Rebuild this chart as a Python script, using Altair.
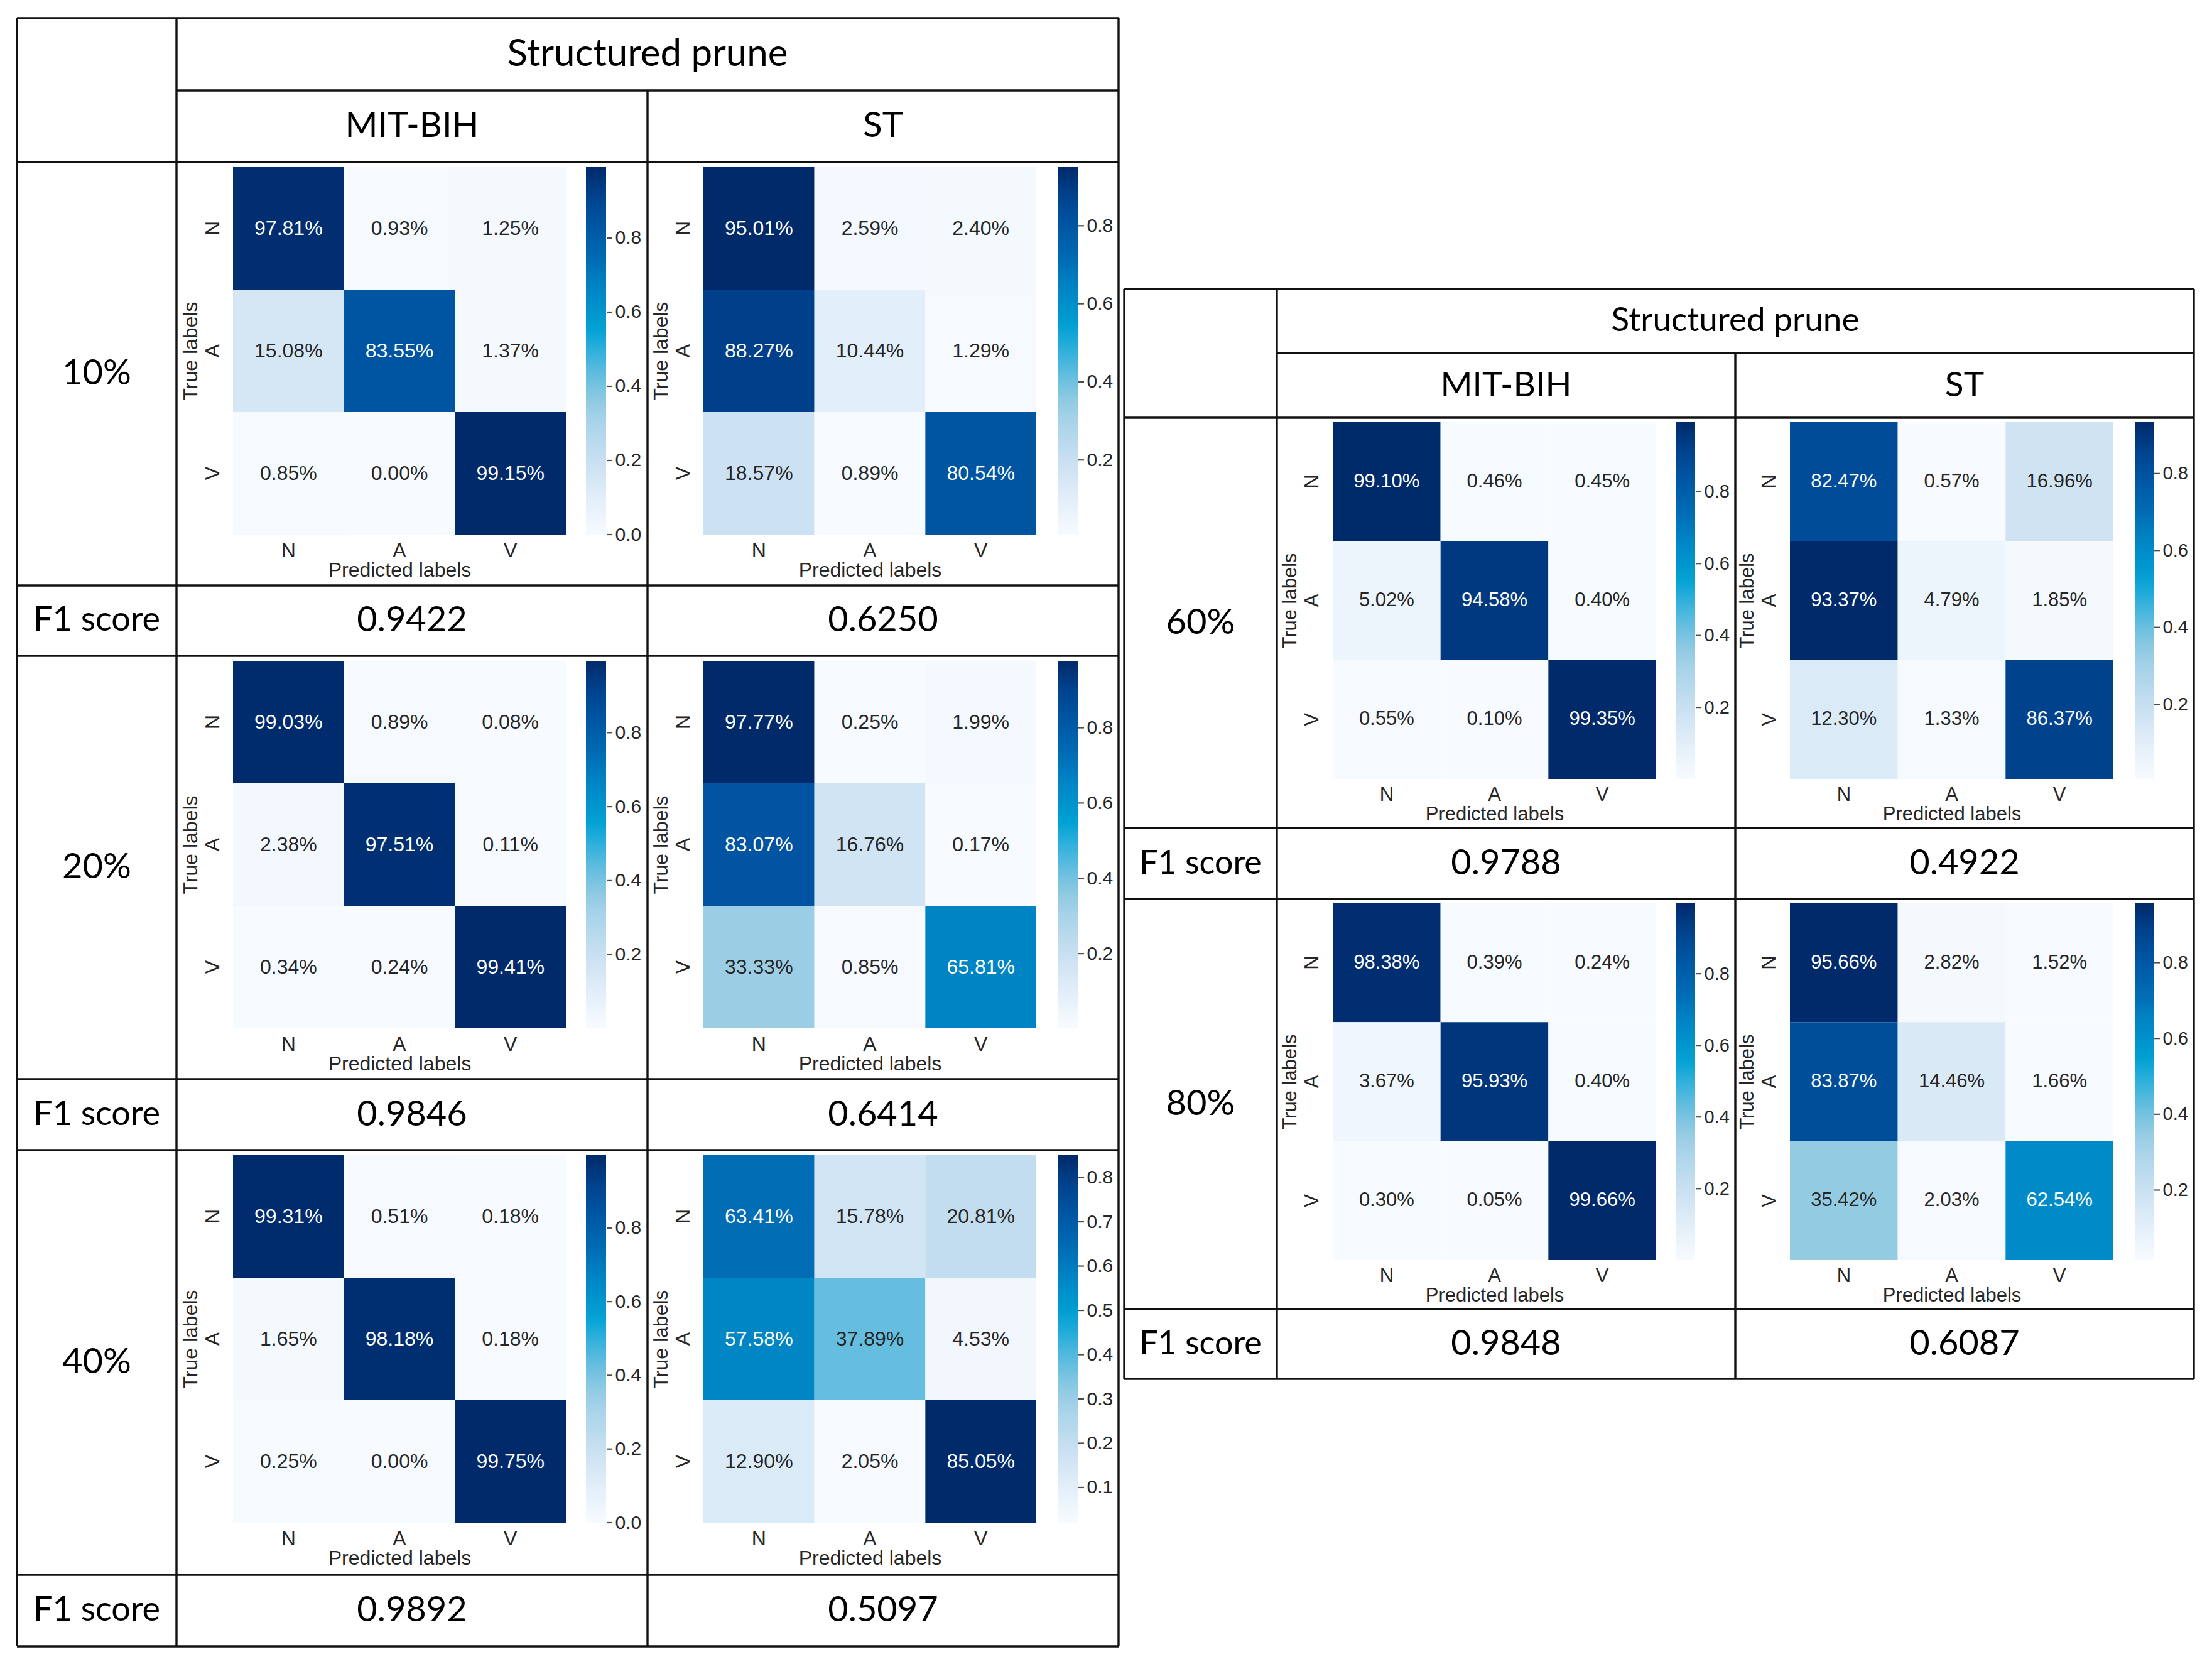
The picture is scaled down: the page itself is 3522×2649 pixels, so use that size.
import altair as alt
import numpy as np
import pandas as pd

# ---------------- data ----------------
CLASSES = ["N", "A", "V"]
LEVELS = ["10%", "20%", "40%", "60%", "80%"]
DATASETS = ["MIT-BIH", "ST"]
HEADER = "Structured prune"
F1_LABEL = "F1 score"
X_TITLE = "Predicted labels"
Y_TITLE = "True labels"

# confusion matrices in % (row = true label N, A, V ; col = predicted N, A, V)
cm_10_mit = [97.81, 0.93, 1.25, 15.08, 83.55, 1.37, 0.85, 0.00, 99.15]
cm_10_st = [95.01, 2.59, 2.40, 88.27, 10.44, 1.29, 18.57, 0.89, 80.54]
cm_20_mit = [99.03, 0.89, 0.08, 2.38, 97.51, 0.11, 0.34, 0.24, 99.41]
cm_20_st = [97.77, 0.25, 1.99, 83.07, 16.76, 0.17, 33.33, 0.85, 65.81]
cm_40_mit = [99.31, 0.51, 0.18, 1.65, 98.18, 0.18, 0.25, 0.00, 99.75]
cm_40_st = [63.41, 15.78, 20.81, 57.58, 37.89, 4.53, 12.90, 2.05, 85.05]
cm_60_mit = [99.10, 0.46, 0.45, 5.02, 94.58, 0.40, 0.55, 0.10, 99.35]
cm_60_st = [82.47, 0.57, 16.96, 93.37, 4.79, 1.85, 12.30, 1.33, 86.37]
cm_80_mit = [98.38, 0.39, 0.24, 3.67, 95.93, 0.40, 0.30, 0.05, 99.66]
cm_80_st = [95.66, 2.82, 1.52, 83.87, 14.46, 1.66, 35.42, 2.03, 62.54]

f1_mit = [0.9422, 0.9846, 0.9892, 0.9788, 0.9848]
f1_st = [0.6250, 0.6414, 0.5097, 0.4922, 0.6087]

MATRICES = [
    (cm_10_mit, cm_10_st),
    (cm_20_mit, cm_20_st),
    (cm_40_mit, cm_40_st),
    (cm_60_mit, cm_60_st),
    (cm_80_mit, cm_80_st),
]

# ---------------- style / layout ----------------
STOP_T = [0.00, 0.10, 0.20, 0.30, 0.36, 0.43, 0.50, 0.56, 0.62, 0.67, 0.74, 0.84, 0.92, 1.00]
STOP_COLORS = ["#f7fbff", "#e2eef9", "#c9e0f1", "#aad4ea", "#93cbe3", "#66bedf", "#30b0dc",
               "#00a2d4", "#0091cb", "#0085c5", "#006db5", "#0056a3", "#00438e", "#002a6a"]
TEXT_DARK = "#262626"
TABLE_FONT = "Lato"
PLOT_FONT = "Liberation Sans"

OFF = 8
W, H = 3500, 2625

LX = [27, 281, 1031, 1781]
LY = [29, 144, 258, 932, 1044, 1718, 1831, 2507, 2621]
RX = [1790, 2033, 2763, 3493]
RY = [460, 562, 665, 1318, 1431, 2084, 2195]

# ---------------- table (lines + text) ----------------
segs = []
for y in LY:
    segs.append((LX[1] if y == LY[1] else LX[0], LX[3], y, y))
for x in LX:
    segs.append((x, x, LY[1] if x == LX[2] else LY[0], LY[-1]))
for y in RY:
    segs.append((RX[1] if y == RY[1] else RX[0], RX[3], y, y))
for x in RX:
    segs.append((x, x, RY[1] if x == RX[2] else RY[0], RY[-1]))
seg_df = pd.DataFrame(segs, columns=["x", "x2", "y", "y2"])

texts = []
def mid(a, b):
    return (a + b) / 2

# left table
texts.append((mid(LX[1], LX[3]), mid(LY[0], LY[1]), HEADER, 60))
texts.append((mid(LX[1], LX[2]), mid(LY[1], LY[2]), DATASETS[0], 56))
texts.append((mid(LX[2], LX[3]), mid(LY[1], LY[2]), DATASETS[1], 56))
for i in range(3):
    r0, r1, r2 = LY[2 + 2 * i], LY[3 + 2 * i], LY[4 + 2 * i]
    texts.append((mid(LX[0], LX[1]), mid(r0, r1), LEVELS[i], 56))
    texts.append((mid(LX[0], LX[1]), mid(r1, r2), F1_LABEL, 54))
    texts.append((mid(LX[1], LX[2]), mid(r1, r2), f"{f1_mit[i]:.4f}", 56))
    texts.append((mid(LX[2], LX[3]), mid(r1, r2), f"{f1_st[i]:.4f}", 56))
# right table
texts.append((mid(RX[1], RX[3]), mid(RY[0], RY[1]), HEADER, 53))
texts.append((mid(RX[1], RX[2]), mid(RY[1], RY[2]), DATASETS[0], 55))
texts.append((mid(RX[2], RX[3]), mid(RY[1], RY[2]), DATASETS[1], 55))
for j in range(2):
    i = 3 + j
    r0, r1, r2 = RY[2 + 2 * j], RY[3 + 2 * j], RY[4 + 2 * j]
    texts.append((mid(RX[0], RX[1]), mid(r0, r1), LEVELS[i], 56))
    texts.append((mid(RX[0], RX[1]), mid(r1, r2), F1_LABEL, 52))
    texts.append((mid(RX[1], RX[2]), mid(r1, r2), f"{f1_mit[i]:.4f}", 56))
    texts.append((mid(RX[2], RX[3]), mid(r1, r2), f"{f1_st[i]:.4f}", 56))
text_df = pd.DataFrame(texts, columns=["x", "y", "label", "fs"])

tx = alt.Scale(domain=[OFF, OFF + W], range=[0, W], nice=False, zero=False)
ty = alt.Scale(domain=[OFF, OFF + H], range=[0, H], nice=False, zero=False)

rules = alt.Chart(seg_df).mark_rule(color="#111111", strokeWidth=3.4).encode(
    x=alt.X("x:Q", scale=tx, axis=None),
    x2="x2:Q",
    y=alt.Y("y:Q", scale=ty, axis=None),
    y2="y2:Q",
)
labels = alt.Chart(text_df).mark_text(font=TABLE_FONT, color="black", baseline="middle", align="center").encode(
    x=alt.X("x:Q", scale=tx, axis=None),
    y=alt.Y("y:Q", scale=ty, axis=None),
    text="label:N",
    size=alt.Size("fs:Q", scale=None),
)
table = alt.layer(rules, labels)

# ---------------- heatmaps ----------------
def heatmap(vals, x0, y0, w, h, cx, cw, fs):
    df = pd.DataFrame({
        "true": [c for c in CLASSES for _ in CLASSES],
        "pred": CLASSES * 3,
        "pct": vals,
    })
    df["v"] = df["pct"] / 100.0
    df["label"] = df["pct"].map(lambda p: f"{p:.2f}%")
    vmin, vmax = float(df["v"].min()), float(df["v"].max())
    df["t"] = (df["v"] - vmin) / (vmax - vmin)
    dom = [vmin + s * (vmax - vmin) for s in STOP_T]
    step = 0.1 if (vmax - vmin) < 0.9 else 0.2
    ticks = [round(k * step, 1) for k in range(0, 11) if vmin - 1e-9 <= k * step <= vmax + 1e-9]

    xs = alt.Scale(domain=CLASSES, range=[x0 - OFF, x0 + w - OFF], paddingInner=0, paddingOuter=0)
    ys = alt.Scale(domain=CLASSES, range=[y0 - OFF, y0 + h - OFF], paddingInner=0, paddingOuter=0)
    xenc = alt.X("pred:N", scale=xs, axis=alt.Axis(
        orient="bottom", offset=(y0 + h - OFF) - H, title=X_TITLE, domain=False, ticks=False,
        tickSize=0, labelAngle=0, labelPadding=25, labelBaseline="middle",
        labelFont=PLOT_FONT, labelFontSize=fs, labelColor=TEXT_DARK,
        titleFont=PLOT_FONT, titleFontSize=fs, titleFontWeight="normal", titleColor=TEXT_DARK,
        titleY=56, titleBaseline="middle", grid=False))
    yenc = alt.Y("true:N", scale=ys, axis=alt.Axis(
        orient="left", offset=-(x0 - OFF), title=Y_TITLE, domain=False, ticks=False,
        tickSize=0, labelAngle=270, labelAlign="center", labelBaseline="middle", labelPadding=33,
        labelFont=PLOT_FONT, labelFontSize=fs, labelColor=TEXT_DARK,
        titleFont=PLOT_FONT, titleFontSize=fs, titleFontWeight="normal", titleColor=TEXT_DARK,
        titleX=-68, titleAngle=270, titleBaseline="middle", grid=False))
    base = alt.Chart(df)
    rect = base.mark_rect().encode(
        x=xenc, y=yenc,
        color=alt.Color("v:Q", scale=alt.Scale(domain=dom, range=STOP_COLORS, interpolate="rgb"),
                        legend=alt.Legend(orient="none", legendX=cx - OFF, legendY=y0 - OFF,
                                          direction="vertical", gradientLength=h, gradientThickness=cw,
                                          gradientStrokeWidth=0, title=None, values=ticks,
                                          labelExpr="''", padding=0)),
    )
    txt = base.mark_text(font=PLOT_FONT, fontSize=fs, baseline="middle", align="center").encode(
        x=xenc, y=yenc, text="label:N",
        color=alt.condition("datum.t > 0.47", alt.value("white"), alt.value(TEXT_DARK)),
    )
    # colorbar ticks + labels, on a linear scale spanning the colorbar
    tick_df = pd.DataFrame({"v": ticks})
    cb_scale = alt.Scale(domain=[vmin, vmax], range=[y0 + h - OFF, y0 - OFF], nice=False, zero=False)
    tk = alt.Chart(tick_df).mark_rule(color="#4d4d4d", strokeWidth=2.2).encode(
        y=alt.Y("v:Q", scale=cb_scale, axis=alt.Axis(
            orient="right", offset=(cx + cw - OFF) - W, values=ticks, format=".1f",
            ticks=False, tickSize=0, domain=False, grid=False, labelPadding=14,
            labelFlush=False, labelBaseline="middle", labelAlign="left", labelOverlap=False,
            labelFont=PLOT_FONT, labelFontSize=fs - 2, labelColor=TEXT_DARK, title=None)),
        x=alt.value(cx + cw - OFF + 1),
        x2=alt.value(cx + cw - OFF + 10),
    )
    return [alt.layer(rect, txt), tk]

heatmaps = []
for i in range(3):
    row_top = LY[2 + 2 * i]
    y0 = row_top + 8
    heatmaps += heatmap(MATRICES[i][0], LX[1] + 90, y0, 530, 585, LX[1] + 652, 32, 32)
    heatmaps += heatmap(MATRICES[i][1], LX[2] + 89, y0, 530, 585, LX[2] + 653, 32, 32)
for j in range(2):
    i = 3 + j
    row_top = RY[2 + 2 * j]
    y0 = row_top + 7
    heatmaps += heatmap(MATRICES[i][0], RX[1] + 89, y0, 515, 568, RX[1] + 636, 30, 31)
    heatmaps += heatmap(MATRICES[i][1], RX[2] + 87, y0, 515, 568, RX[2] + 636, 30, 31)

chart = alt.layer(table, *heatmaps).resolve_scale(
    x="independent", y="independent", color="independent"
).properties(
    width=W, height=H, padding=0, background="white",
    autosize=alt.AutoSizeParams(type="none"),
).configure_view(stroke=None)

chart.save("out.html", embed_options={"renderer": "svg", "actions": False})
